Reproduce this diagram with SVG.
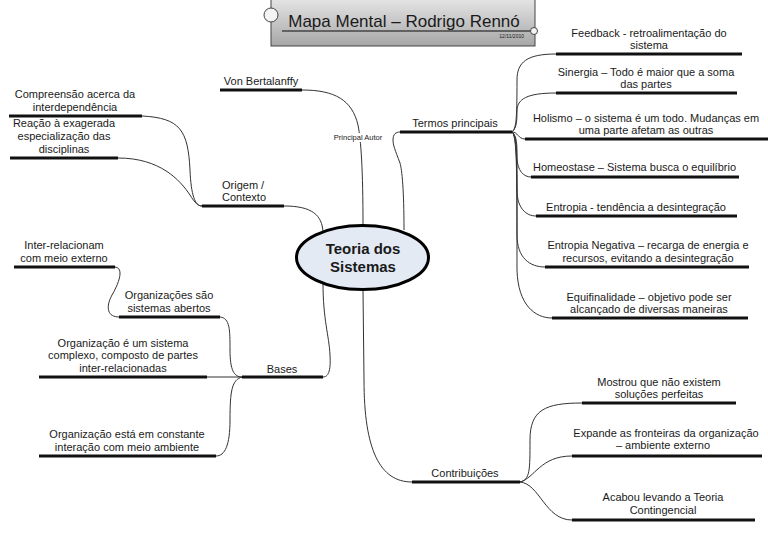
<svg xmlns="http://www.w3.org/2000/svg" width="768" height="543" viewBox="0 0 768 543">
<defs>
<linearGradient id="tg" x1="0" y1="0" x2="0" y2="1">
<stop offset="0" stop-color="#e6e6e6"/>
<stop offset="1" stop-color="#a6a6a6"/>
</linearGradient>
<style>
text{font-family:"Liberation Sans",Arial,sans-serif;fill:#1a1a1a}
.t{font-size:11px;text-anchor:middle}
.u{stroke:#111;stroke-width:3;fill:none}
.c{stroke:#333;stroke-width:1;fill:none}
</style>
</defs>
<rect width="768" height="543" fill="#fff"/>

<g id="connectors">
<path class="c" d="M302,90 C335,90 352,100 358,125 C361,140 363,170 363,225"/>
<path class="c" d="M404,230 C404,190 402,170 400,163 C395,150 393,145 393,140 C393,134 396,132 400,132"/>
<path class="c" d="M284,206 C312,206 322,215 323,232"/>
<path class="c" d="M323,283 C323,320 329,335 330,355 C331,372 328,377 323,377"/>
<path class="c" d="M363,290 L364,380 C364,450 380,482 412,482"/>
<path class="c" d="M142,116 C180,118 188,130 190,170 C191,195 195,206 202,206"/>
<path class="c" d="M118,158 C160,158 180,180 190,195 C195,203 198,206 202,206"/>
<path class="c" d="M115,267 C125,268 118,285 112,295 C105,308 108,317 119,317"/>
<path class="c" d="M220,317 C230,318 230,330 230,350 C230,370 234,377 242,377"/>
<path class="c" d="M207,377 L242,377"/>
<path class="c" d="M242,377 C232,380 230,390 230,420 C230,445 225,456 216,456"/>
<path class="c" d="M512,132 C516,128 517,122 517,80 C517,62 527,54 556,54"/>
<path class="c" d="M512,132 C516,128 517,124 517,111 C517,99 527,93 556,93"/>
<path class="c" d="M512,132 C518,132 518,139 525,139"/>
<path class="c" d="M512,132 C517,136 517,145 517,157 C517,171 524,177 531,177"/>
<path class="c" d="M512,132 C517,136 517,150 517,190 C517,208 526,216 536,216"/>
<path class="c" d="M512,132 C517,136 517,160 517,235 C517,258 530,267 545,267"/>
<path class="c" d="M512,132 C517,136 517,170 517,270 C518,305 535,318 552,318"/>
<path class="c" d="M520,482 C530,480 530,470 530,440 C530,410 545,403 582,403"/>
<path class="c" d="M520,482 C535,478 540,456 572,456"/>
<path class="c" d="M520,482 C540,484 545,520 572,520"/>
</g>

<g id="title">
<rect x="271" y="-2" width="264" height="48" fill="url(#tg)" stroke="#444" stroke-width="1"/>
<line x1="282" y1="31" x2="531" y2="31" stroke="#444" stroke-width="1.5"/>
<circle cx="271" cy="15" r="7" fill="#f4f4f4" stroke="#444" stroke-width="1"/>
<circle cx="534" cy="31" r="3.5" fill="#f4f4f4" stroke="#444" stroke-width="1"/>
<text x="404" y="27" font-size="17" text-anchor="middle">Mapa Mental – Rodrigo Rennó</text>
<text x="524" y="38" font-size="5" text-anchor="end">12/11/2010</text>
</g>

<g id="center">
<ellipse cx="362.5" cy="257.5" rx="66" ry="32" fill="#e4eaf4" stroke="#000" stroke-width="3"/>
<text x="363" y="254" font-size="15" font-weight="bold" text-anchor="middle">Teoria dos</text>
<text x="363" y="272" font-size="15" font-weight="bold" text-anchor="middle">Sistemas</text>
</g>

<g id="principal-autor">
<rect x="333" y="133" width="50" height="9" fill="#fff"/>
<text x="358" y="140" font-size="7.5" text-anchor="middle">Principal Autor</text>
</g>

<g id="von-bertalanffy">
<line class="u" x1="220" y1="90" x2="302" y2="90"/>
<text class="t" x="261" y="85">Von Bertalanffy</text>
</g>

<g id="origem">
<line class="u" x1="202" y1="206" x2="284" y2="206"/>
<text x="222" y="189" font-size="11">Origem /</text>
<text x="222" y="201" font-size="11">Contexto</text>
</g>

<g id="compreensao">
<line class="u" x1="9" y1="116" x2="142" y2="116"/>
<text class="t" x="75" y="98">Compreensão acerca da</text>
<text class="t" x="75" y="111">interdependência</text>
</g>

<g id="reacao">
<line class="u" x1="10" y1="158" x2="118" y2="158"/>
<text class="t" x="64" y="127">Reação à exagerada</text>
<text class="t" x="64" y="140">especialização das</text>
<text class="t" x="64" y="153">disciplinas</text>
</g>

<g id="bases">
<line class="u" x1="242" y1="377" x2="323" y2="377"/>
<text class="t" x="282" y="373">Bases</text>
</g>

<g id="inter-relacionam">
<line class="u" x1="14" y1="267" x2="115" y2="267"/>
<text class="t" x="64" y="249">Inter-relacionam</text>
<text class="t" x="64" y="262">com meio externo</text>
</g>

<g id="organizacoes-abertos">
<line class="u" x1="119" y1="317" x2="220" y2="317"/>
<text class="t" x="169" y="299">Organizações são</text>
<text class="t" x="169" y="312">sistemas abertos</text>
</g>

<g id="organizacao-complexo">
<line class="u" x1="39" y1="377" x2="207" y2="377"/>
<text class="t" x="123" y="347">Organização é um sistema</text>
<text class="t" x="123" y="359">complexo, composto de partes</text>
<text class="t" x="123" y="372">inter-relacionadas</text>
</g>

<g id="organizacao-interacao">
<line class="u" x1="39" y1="456" x2="216" y2="456"/>
<text class="t" x="127" y="438">Organização está em constante</text>
<text class="t" x="127" y="451">interação com meio ambiente</text>
</g>

<g id="termos">
<line class="u" x1="400" y1="132" x2="512" y2="132"/>
<text class="t" x="455" y="127">Termos principais</text>
</g>

<g id="feedback">
<line class="u" x1="556" y1="54" x2="742" y2="54"/>
<text class="t" x="649" y="37">Feedback - retroalimentação do</text>
<text class="t" x="649" y="49">sistema</text>
</g>

<g id="sinergia">
<line class="u" x1="556" y1="93" x2="737" y2="93"/>
<text class="t" x="646" y="76">Sinergia – Todo é maior que a soma</text>
<text class="t" x="646" y="88">das partes</text>
</g>

<g id="holismo">
<line class="u" x1="525" y1="139" x2="768" y2="139"/>
<text class="t" x="646" y="122">Holismo – o sistema é um todo. Mudanças em</text>
<text class="t" x="646" y="134">uma parte afetam as outras</text>
</g>

<g id="homeostase">
<line class="u" x1="531" y1="177" x2="739" y2="177"/>
<text class="t" x="634.5" y="171">Homeostase – Sistema busca o equilíbrio</text>
</g>

<g id="entropia">
<line class="u" x1="536" y1="216" x2="737" y2="216"/>
<text class="t" x="636" y="211">Entropia - tendência a desintegração</text>
</g>

<g id="entropia-negativa">
<line class="u" x1="545" y1="267" x2="749" y2="267"/>
<text class="t" x="648" y="249">Entropia Negativa – recarga de energia e</text>
<text class="t" x="648" y="262">recursos, evitando a desintegração</text>
</g>

<g id="equifinalidade">
<line class="u" x1="552" y1="318" x2="748" y2="318"/>
<text class="t" x="649" y="301">Equifinalidade – objetivo pode ser</text>
<text class="t" x="649" y="313">alcançado de diversas maneiras</text>
</g>

<g id="contribuicoes">
<line class="u" x1="412" y1="482" x2="520" y2="482"/>
<text class="t" x="465" y="477">Contribuições</text>
</g>

<g id="mostrou">
<line class="u" x1="582" y1="403" x2="736" y2="403"/>
<text class="t" x="659" y="386">Mostrou que não existem</text>
<text class="t" x="659" y="398">soluções perfeitas</text>
</g>

<g id="expande">
<line class="u" x1="572" y1="456" x2="762" y2="456"/>
<text class="t" x="666" y="437">Expande as fronteiras da organização</text>
<text class="t" x="663" y="449">– ambiente externo</text>
</g>

<g id="acabou">
<line class="u" x1="572" y1="520" x2="755" y2="520"/>
<text class="t" x="663" y="501">Acabou levando a Teoria</text>
<text class="t" x="663" y="514">Contingencial</text>
</g>
</svg>
